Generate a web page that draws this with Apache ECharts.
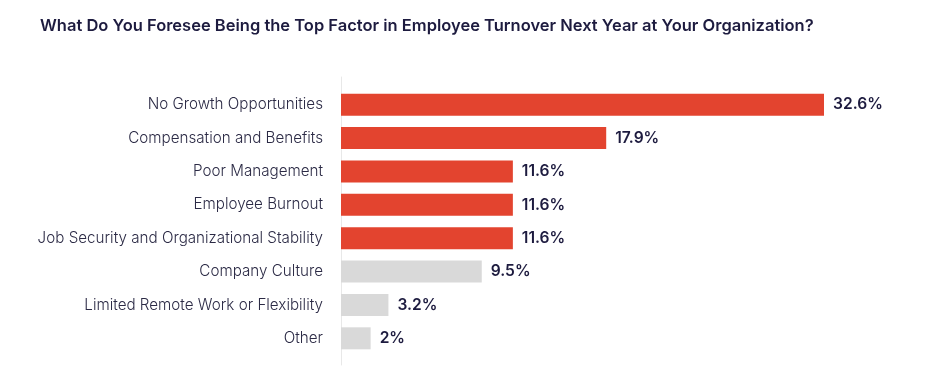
<!DOCTYPE html>
<html><head><meta charset="utf-8">
<script src="https://cdn.jsdelivr.net/npm/echarts@6/dist/echarts.min.js"></script>
<style>html,body{margin:0;padding:0;background:#fff}#c{width:942px;height:378px}</style>
</head><body><div id="c"></div>
<script>
const title = 'What Do You Foresee Being the Top Factor in Employee Turnover Next Year at Your Organization?';
const categories = ['No Growth Opportunities','Compensation and Benefits','Poor Management','Employee Burnout','Job Security and Organizational Stability','Company Culture','Limited Remote Work or Flexibility','Other'];
const values = [32.6, 17.9, 11.6, 11.6, 11.6, 9.5, 3.2, 2];
const highlighted = [true, true, true, true, true, false, false, false];
const RED = '#E3442F', GRAY = '#D9D9D9', NAVY = '#1d1b3f';
const chart = echarts.init(document.getElementById('c'), null, {renderer:'canvas'});
chart.setOption({
  animation:false,
  title:{text:title,left:35,top:13,textStyle:{fontFamily:'Inter',fontWeight:600,fontSize:16.5,color:NAVY}},
  grid:[{left:341,top:88,height:267,width:483},{left:341,top:77,height:288,width:1}],
  xAxis:[{type:'value',min:0,max:32.6,show:false,gridIndex:0},{type:'value',show:false,gridIndex:1}],
  yAxis:[{type:'category',inverse:true,data:categories,gridIndex:0,
    axisLine:{show:false},axisTick:{show:false},
    axisLabel:{margin:18,fontFamily:'Inter',fontWeight:300,fontSize:15.2,color:'#2b2a45'}},
    {type:'value',gridIndex:1,min:0,max:1,axisLine:{show:true,lineStyle:{color:'#e8e8e8',width:1}},axisTick:{show:false},axisLabel:{show:false},splitLine:{show:false}}],
  series:[{type:'bar',xAxisIndex:0,yAxisIndex:0,barWidth:22,
    data:values.map((v,i)=>({value:v,itemStyle:{color:highlighted[i]?RED:GRAY}})),
    label:{show:true,position:'right',distance:9,formatter:p=>p.value+'%',fontFamily:'Inter',fontWeight:600,fontSize:15.6,color:NAVY}}]
});
</script></body></html>
